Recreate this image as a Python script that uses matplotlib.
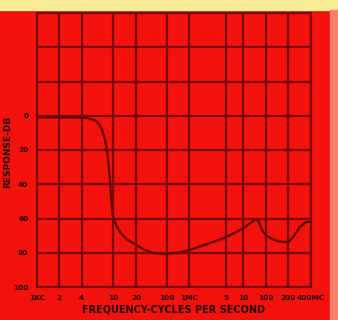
import numpy as np
import matplotlib
matplotlib.use("Agg")
import matplotlib.pyplot as plt
from matplotlib.patches import Rectangle

# grid frequencies (Hz) and their labels
grid_freqs = [1e3, 2e3, 4e3, 1e4, 2e4, 1e5, 1e6, 5e6, 1e7, 1e8, 2e8, 4e8]
grid_labels = ["1KC", "2", "4", "10", "20", "100", "1MC", "5", "10", "100", "200", "400MC"]
# relative horizontal position of each grid line on the printed chart
grid_pos = [0.0, 22.6, 45.0, 76.6, 99.3, 130.0, 152.3, 189.0, 206.6, 229.0, 251.6, 274.3]

# response curve
freq = [1e3, 3e3, 4e3, 4.8e3, 5.3e3, 5.9e3, 6.3e3, 6.8e3, 7.3e3, 7.9e3, 8.3e3, 8.6e3,
        9.1e3, 9.4e3, 9.7e3, 1e4, 1.1e4, 1.23e4, 1.5e4, 2e4, 3e4, 4.2e4, 6e4, 1e5,
        3e5, 1e6, 2.5e6, 5e6, 1e7, 2e7, 2.8e7, 3.5e7, 4.1e7, 4.8e7, 5.5e7, 7e7, 1e8,
        1.3e8, 1.55e8, 2e8, 2.3e8, 2.85e8, 3.44e8, 4e8]
resp = [1.0, 1.0, 1.1, 1.4, 2.0, 2.8, 3.8, 5.8, 9.0, 14.5, 20, 26,
        38, 49, 55, 60, 64, 68, 72, 75.5, 78, 79.6, 80.5, 80.8,
        80, 78.5, 74.4, 71, 65.7, 62.8, 61.5, 60.8, 60.8, 61.8, 63.5, 67, 69.8,
        72.5, 73.5, 73.8, 71, 65, 62, 62]

ytick_vals = [-60, -40, -20, 0, 20, 40, 60, 80, 100]
ytick_labels = ["", "", "", "0", "20", "40", "60", "80", "100"]

RED = "#f2140c"
GRID = "#7a0a0a"
TXT = "#2a0505"

lg = np.log10(grid_freqs)
gp = np.array(grid_pos)

def fwd(f):
    f = np.asarray(f, dtype=float)
    l = np.log10(np.clip(f, 1e-12, None))
    return np.interp(l, lg, gp)

def inv(x):
    x = np.asarray(x, dtype=float)
    return 10 ** np.interp(x, gp, lg)

fig = plt.figure(figsize=(3.38, 3.20), dpi=100)
fig.patch.set_facecolor(RED)
# yellow strip at top and pale strip at right edge
fig.add_artist(Rectangle((0, 1 - 10 / 320), 1, 10 / 320, transform=fig.transFigure,
                         color="#f8ec96", zorder=0))
fig.add_artist(Rectangle((1 - 8 / 338, 0), 8 / 338, 1 - 10 / 320, transform=fig.transFigure,
                         color="#f7806a", zorder=0))

ax = fig.add_axes([36.7 / 338, 1 - 287 / 320, (311 - 36.7) / 338, (287 - 13) / 320])
ax.set_facecolor(RED)
ax.set_xscale("function", functions=(fwd, inv))
ax.set_xlim(grid_freqs[0], grid_freqs[-1])
ax.set_ylim(100, -60)

ax.set_xticks(grid_freqs)
ax.set_xticklabels(grid_labels)
ax.xaxis.set_minor_locator(matplotlib.ticker.NullLocator())
ax.set_yticks(ytick_vals)
ax.set_yticklabels(ytick_labels)

ax.grid(True, color=GRID, linewidth=1.6)
for s in ax.spines.values():
    s.set_color(GRID)
    s.set_linewidth(1.6)
ax.tick_params(length=0, colors=TXT, labelsize=5.3, pad=6)
for lab in ax.get_xticklabels() + ax.get_yticklabels():
    lab.set_fontweight("bold")

ax.plot(freq, resp, color="#640606", linewidth=1.6, zorder=3)

ax.set_xlabel("FREQUENCY-CYCLES PER SECOND", fontsize=7, fontweight="bold",
              color=TXT, labelpad=2)
fig.text(8 / 338, 1 - 152 / 320, "RESPONSE-DB", rotation=90, fontsize=6.5,
         fontweight="bold", color=TXT, ha="center", va="center")

fig.savefig("out.png", dpi=100, facecolor=fig.get_facecolor())
